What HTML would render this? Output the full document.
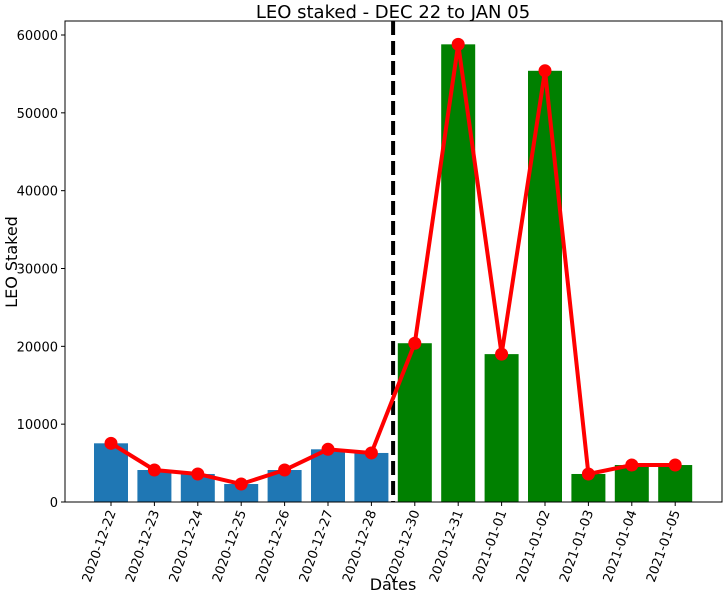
<!DOCTYPE html>
<html><head><meta charset="utf-8"><style>
body{margin:0;background:#fff;font-family:"Liberation Sans","DejaVu Sans",sans-serif;}
svg text{font-family:"DejaVu Sans","Liberation Sans",sans-serif;}
</style></head><body>
<svg id="chart" width="726" height="597">
<text x="393" y="18" font-size="18" text-anchor="middle">LEO staked - DEC 22 to JAN 05</text>
<text x="393" y="590" font-size="16" text-anchor="middle">Dates</text>
<text transform="translate(17,262) rotate(-90)" font-size="16" text-anchor="middle">LEO Staked</text>
<g id="plot"></g>
</svg>
<script>
const categories=["2020-12-22","2020-12-23","2020-12-24","2020-12-25","2020-12-26","2020-12-27","2020-12-28","2020-12-30","2020-12-31","2021-01-01","2021-01-02","2021-01-03","2021-01-04","2021-01-05"];
const stakedValues=[7540,4110,3600,2310,4110,6770,6300,20400,58800,19000,55400,3600,4750,4750];
const yTicks=[0,10000,20000,30000,40000,50000,60000];
const splitIndex=6.5;
const L=65,R=722,T=21,B=502;
const x=i=>111+i*43.4;
const y=v=>B-v*(467/60000);
const ns="http://www.w3.org/2000/svg";
const g=document.getElementById('plot');
function mk(t,a){const e=document.createElementNS(ns,t);for(const k in a)e.setAttribute(k,a[k]);g.appendChild(e);return e;}
stakedValues.forEach((v,i)=>{
 const r=mk('rect',{x:x(i)-17,y:y(v),width:34,height:B-y(v),fill:i<7?'#1f77b4':'#008000'});
 
 
});
const dl=mk('line',{x1:x(splitIndex),x2:x(splitIndex),y1:T,y2:B,stroke:'#000','stroke-width':4,'stroke-dasharray':'14,6'});


const pl=mk('polyline',{points:stakedValues.map((v,i)=>x(i)+','+y(v)).join(' '),fill:'none',stroke:'#ff0000','stroke-width':4,'stroke-linejoin':'round'});


stakedValues.forEach((v,i)=>{
 const c=mk('circle',{cx:x(i),cy:y(v),r:6.5,fill:'#ff0000'});
 
 
});
const fr=mk('rect',{x:L,y:T,width:R-L,height:B-T,fill:'none',stroke:'#000','stroke-width':1});


yTicks.forEach(t=>{
 mk('line',{x1:L-4,x2:L,y1:y(t),y2:y(t),stroke:'#000'});
 const tx=mk('text',{x:L-7,y:y(t)+5,'font-size':13,'text-anchor':'end'});
 tx.textContent=t;
 
 
});
categories.forEach((c,i)=>{
 mk('line',{x1:x(i),x2:x(i),y1:B,y2:B+4,stroke:'#000'});
 const tx=mk('text',{transform:`translate(${x(i)+5},${B+10}) rotate(-70)`,'font-size':13,'text-anchor':'end'});
 tx.textContent=c;
 
 
});
</script>
</body></html>
